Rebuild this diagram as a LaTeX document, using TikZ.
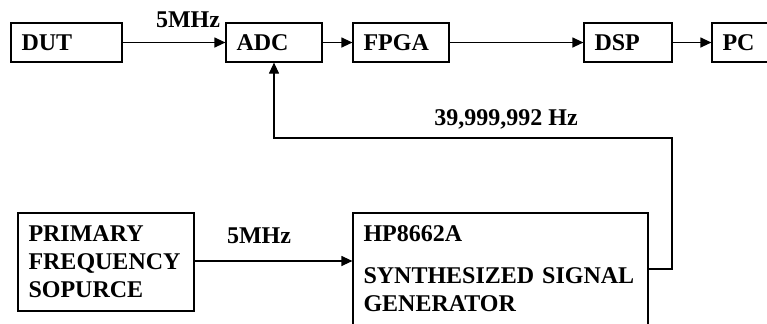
\documentclass[tikz,border=0pt]{standalone}
\usepackage{fontspec}
\setmainfont{Liberation Serif}
\usetikzlibrary{arrows.meta}

\begin{document}
\begin{tikzpicture}[x=0.5pt,y=-0.5pt,
    blk/.style={draw, line width=0.6pt, inner xsep=5.25pt, inner ysep=0pt, align=left,
      font=\fontsize{12}{14}\selectfont\bfseries},
    lbl/.style={anchor=base, font=\fontsize{12}{14}\selectfont\bfseries},
    sig/.style={-{Triangle[length=5.5pt,width=5pt]}, line width=0.6pt}]
    \clip (0,0) rectangle (767,323);

    \node[blk, text width=45pt, minimum height=19.5pt] (dut) at (66.5,42.5) {DUT};
    \node[blk, text width=37.5pt, minimum height=19.5pt] (adc) at (274,42.5) {ADC};
    \node[blk, text width=37.5pt, minimum height=19.5pt] (fpga) at (401,42.5) {FPGA};
    \node[blk, text width=33.5pt, minimum height=19.5pt] (dsp) at (628,42.5) {DSP};
    \node[blk, text width=33.5pt, minimum height=19.5pt] (pc) at (756,42.5) {PC};

    \node[blk, text width=77.5pt, minimum height=49pt] (src) at (106,262) {PRIMARY\\FREQUENCY\\SOPURCE};
    \node[blk, text width=137pt, minimum height=56pt] (hp) at (500.5,269) {HP8662A\\[7pt]SYNTHESIZED SIGNAL\\GENERATOR};

    \coordinate (fb) at (672,138);

    \draw[sig] (dut) -- (adc);
    \draw[sig] (adc) -- (fpga);
    \draw[sig] (fpga) -- (dsp);
    \draw[sig] (dsp) -- (pc);
    \draw[sig] (src.east |- 0,261) -- (hp.west |- 0,261);
    \draw[sig] (hp.east) -| (fb) -| (adc.south);

    \node[lbl] (f1) at (188,27) {5MHz};
    \node[lbl] (f2) at (259,243) {5MHz};
    \node[lbl] (f3) at (506,125) {39,999,992 Hz};
\end{tikzpicture}
\end{document}
